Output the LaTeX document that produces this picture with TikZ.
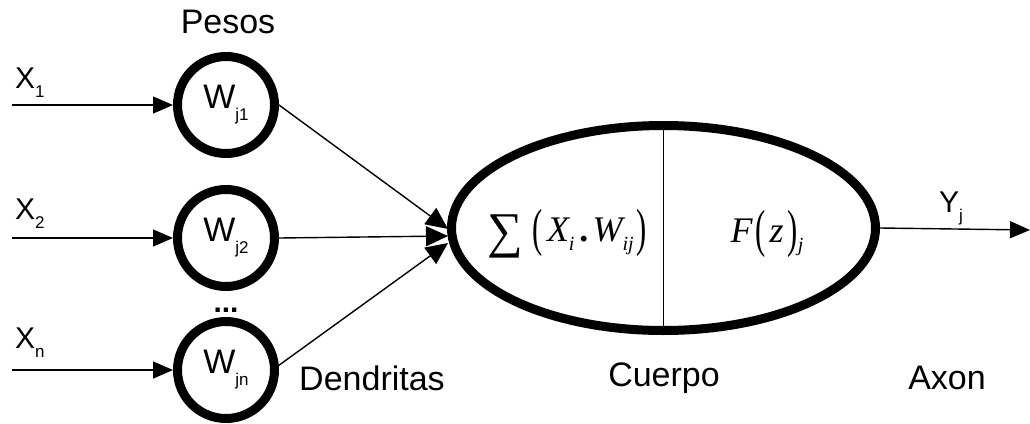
\documentclass[tikz,border=0pt]{standalone}
\usepackage{fontspec}
\setmainfont{Liberation Sans}
\newfontfamily\mathserif{Liberation Serif}
\usetikzlibrary{arrows.meta,shapes.geometric}
\tikzset{
  weight/.style={circle,draw,line width=9pt,minimum size=97pt,inner sep=0pt,
    font=\fontsize{34}{34}\selectfont},
  thin/.style={line width=1.4pt},
  arr/.style={thin,-{Triangle[length=20pt,width=17pt]}},
  bigarr/.style={thin,-{Triangle[length=22pt,width=20pt]}},
  lbl/.style={font=\fontsize{34}{34}\selectfont,inner sep=0pt},
  xlbl/.style={font=\fontsize{30}{30}\selectfont,inner sep=0pt,anchor=base west},
  mathlbl/.style={font=\mathserif\fontsize{36}{36}\selectfont,inner sep=0pt},
}
\newcommand{\lowsub}[2]{\raisebox{#1}{\fontsize{17}{17}\selectfont #2}}
\newcommand{\msub}[1]{\raisebox{-9pt}{\fontsize{20}{20}\selectfont\itshape #1}}
\newcommand{\tallp}[1]{\raisebox{-4pt}{\scalebox{0.85}[1.45]{#1}}}
\begin{document}
\begin{tikzpicture}[x=1pt,y=-1pt]
\useasboundingbox (0,0) rectangle (1030,423);
% weights
\node[weight] (w1) at (226,105) {W\lowsub{-12pt}{j1}};
\node[weight] (w2) at (226,238) {W\lowsub{-12pt}{j2}};
\node[weight] (wn) at (226,370) {W\lowsub{-12pt}{jn}};
\node[lbl] (pesos) at (228,22) {Pesos};
\node[font=\bfseries\fontsize{30}{30}\selectfont,inner sep=0pt,anchor=base] (dots) at (226,312) {...};
% inputs
\coordinate (i1) at (12,105);
\coordinate (i2) at (12,238);
\coordinate (in) at (12,370);
\draw[arr] (i1) -- (w1.west);
\draw[arr] (i2) -- (w2.west);
\draw[arr] (in) -- (wn.west);
\node[xlbl] (x1) at (15,88) {X\lowsub{-9pt}{1}};
\node[xlbl] (x2) at (15,219) {X\lowsub{-9pt}{2}};
\node[xlbl] (xn) at (15,348) {X\lowsub{-9pt}{n}};
% body
\node[ellipse,draw,line width=9pt,minimum width=424pt,minimum height=205pt,inner sep=0pt] (body) at (663.5,228) {};
\draw[thin] (body.north) -- (body.south);
\node[mathlbl] (sum) at (567,234)
  {\raisebox{-6pt}{\fontsize{50}{50}\selectfont ∑}\hspace{10pt}\tallp{(}\hspace{4pt}\itshape X\msub{i}\hspace{6pt}\textbf{.}\hspace{3pt}W\msub{ij}\upshape\hspace{3pt}\tallp{)}};
\node[mathlbl] (fz) at (767,234)
  {\itshape F\upshape\hspace{3pt}\tallp{(}\hspace{4pt}\itshape z\upshape\hspace{4pt}\tallp{)}\msub{j}};
% dendrites
\coordinate (t1) at (448,229);
\coordinate (t2) at (448,236);
\coordinate (tn) at (448,243);
\draw[bigarr] (w1.east) -- (t1);
\draw[bigarr] (w2.east) -- (t2);
\draw[bigarr] (wn.5) -- (tn);
% output
\coordinate (out) at (1030,230);
\draw[arr] (body.east) -- (out);
\node[xlbl] (y) at (939,212) {Y\lowsub{-9pt}{j}};
% captions
\node[lbl] (dend) at (372,378) {Dendritas};
\node[lbl] (cuerpo) at (664,378) {Cuerpo};
\node[lbl] (axon) at (947,378) {Axon};
\end{tikzpicture}
\end{document}
